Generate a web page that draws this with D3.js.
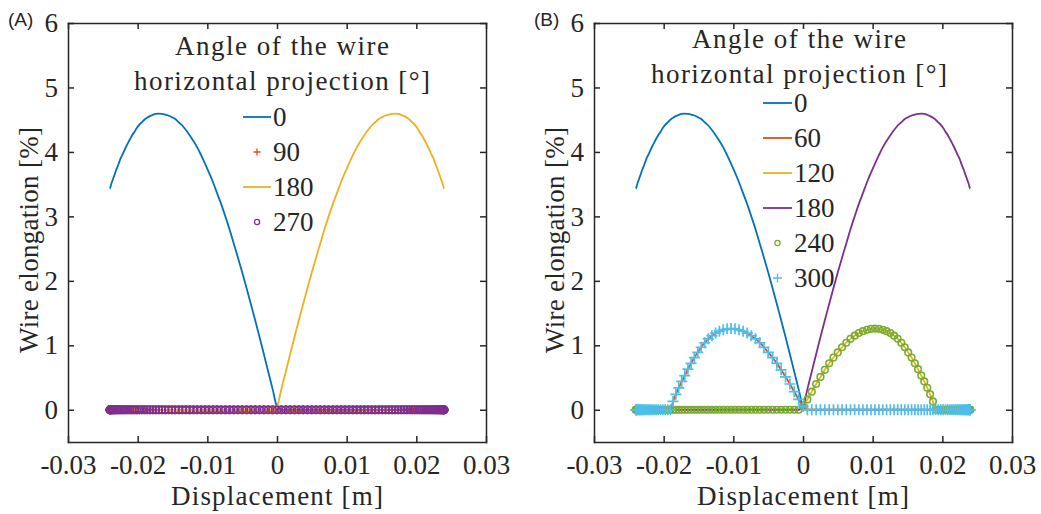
<!DOCTYPE html>
<html>
<head>
<meta charset="utf-8">
<script src="https://cdn.jsdelivr.net/npm/d3@7"></script>
<style>
  body { margin: 0; background: #fff; }
  svg text { fill: #262626; font-family: "Liberation Serif", "Times New Roman", serif; }
  svg text.letter { font-family: "Liberation Sans", Arial, sans-serif; }
</style>
</head>
<body>
<svg id="chart" width="1041" height="514"></svg>
<script>
// displacement samples on one side of the centre [m]
const halfDisp = [0, 0.000628, 0.001256, 0.001883, 0.002509, 0.003133, 0.003754, 0.004374, 0.00499, 0.005603,
  0.006212, 0.006816, 0.007416, 0.008011, 0.008601, 0.009184, 0.009762, 0.010332, 0.010896, 0.011452,
  0.012, 0.01254, 0.013071, 0.013594, 0.014107, 0.01461, 0.015104, 0.015587, 0.016059, 0.01652,
  0.016971, 0.017409, 0.017835, 0.01825, 0.018652, 0.01904, 0.019416, 0.019779, 0.020128, 0.020463,
  0.020785, 0.021092, 0.021384, 0.021662, 0.021925, 0.022173, 0.022406, 0.022623, 0.022825, 0.023012,
  0.023182, 0.023337, 0.023476, 0.023598, 0.023705, 0.023795, 0.023868, 0.023926, 0.023967, 0.023992, 0.024];

const peakCurve = [0.05, 0.32, 0.59, 0.86, 1.13, 1.39, 1.64, 1.89, 2.13, 2.36,
  2.58, 2.80, 3.00, 3.19, 3.36, 3.53, 3.68, 3.82, 3.95, 4.07,
  4.17, 4.26, 4.34, 4.41, 4.46, 4.51, 4.54, 4.565, 4.58, 4.59,
  4.595, 4.59, 4.575, 4.555, 4.53, 4.50, 4.46, 4.42, 4.37, 4.31,
  4.26, 4.20, 4.14, 4.08, 4.02, 3.96, 3.91, 3.85, 3.79, 3.74,
  3.69, 3.64, 3.60, 3.56, 3.53, 3.50, 3.47, 3.45, 3.44, 3.43, 3.43];

// elongation [%] (60, 120, 240, 300 deg)
const humpCurve = [0.05, 0.16, 0.28, 0.40, 0.51, 0.62, 0.72, 0.81, 0.89, 0.97,
  1.04, 1.10, 1.15, 1.19, 1.22, 1.24, 1.255, 1.26, 1.255, 1.24,
  1.22, 1.19, 1.15, 1.10, 1.04, 0.97, 0.89, 0.81, 0.72, 0.63,
  0.53, 0.44, 0.34, 0.24, 0.13, 0, 0, 0, 0, 0,
  0, 0, 0, 0, 0, 0, 0, 0, 0, 0,
  0, 0, 0, 0, 0, 0, 0, 0, 0, 0, 0];

// flat part of the response
const flatCurve = [0, 0, 0, 0, 0, 0, 0, 0, 0, 0,
  0, 0, 0, 0, 0, 0, 0, 0, 0, 0,
  0, 0, 0, 0, 0, 0, 0, 0, 0, 0,
  0, 0, 0, 0, 0, 0, 0, 0, 0, 0,
  0, 0, 0, 0, 0, 0, 0, 0, 0, 0,
  0, 0, 0, 0, 0, 0, 0, 0, 0, 0, 0];

const xTicks = [-0.03, -0.02, -0.01, 0, 0.01, 0.02, 0.03];
const yTicks = [0, 1, 2, 3, 4, 5, 6];

const anglesA = [0, 90, 180, 270];
const anglesB = [0, 60, 120, 180, 240, 300];

// which curve is on the negative / positive side for every angle
const shapesA = [[peakCurve, flatCurve], [flatCurve, flatCurve], [flatCurve, peakCurve], [flatCurve, flatCurve]];
const shapesB = [[peakCurve, flatCurve], [humpCurve, flatCurve], [flatCurve, humpCurve],
  [flatCurve, peakCurve], [flatCurve, humpCurve], [humpCurve, flatCurve]];

const C = {blue: "#0072BD", red: "#D95319", yellow: "#EDB120", purple: "#7E2F8E", green: "#77AC30", cyan: "#4DBEEE"};
const stylesA = [
  {type: "line", color: C.blue}, {type: "plus", color: C.red, r: 4.6, legendR: 3.5},
  {type: "line", color: C.yellow}, {type: "circle", color: C.purple, r: 3.6}];
const stylesB = [
  {type: "line", color: C.blue}, {type: "line", color: C.red}, {type: "line", color: C.yellow},
  {type: "line", color: C.purple}, {type: "circle", color: C.green, r: 3.3},
  {type: "plus", color: C.cyan, r: 5.5, legendR: 4.5}];

function buildPoints(neg, pos) {
  const pts = [];
  for (let i = halfDisp.length - 1; i > 0; i--) pts.push([-halfDisp[i], neg[i]]);
  pts.push([0, Math.max(neg[0], pos[0])]);
  for (let i = 1; i < halfDisp.length; i++) pts.push([halfDisp[i], pos[i]]);
  return pts;
}

const svg = d3.select("#chart");
const FS = 27;

function panel(x0, label, angles, shapes, styles, legendCfg) {
  const x = d3.scaleLinear().domain([-0.03, 0.03]).range([x0, x0 + 418]);
  const y = d3.scaleLinear().domain([-0.5, 6]).range([442, 23]);
  const g = svg.append("g");

  // series
  angles.forEach((a, i) => {
    const pts = buildPoints(shapes[i][0], shapes[i][1]);
    const st = styles[i];
    if (st.type === "line") {
      g.append("path")
        .attr("d", d3.line().curve(d3.curveMonotoneX).x(d => x(d[0])).y(d => y(d[1]))(pts))
        .attr("fill", "none").attr("stroke", st.color).attr("stroke-width", 1.8);
    } else if (st.type === "plus") {
      g.selectAll(null).data(pts).enter().append("path")
        .attr("transform", d => `translate(${x(d[0])},${y(d[1])})`)
        .attr("d", `M${-st.r},0H${st.r}M0,${-st.r}V${st.r}`)
        .attr("stroke", st.color).attr("stroke-width", 1.7).attr("fill", "none");
    } else {
      g.selectAll(null).data(pts).enter().append("circle")
        .attr("cx", d => x(d[0])).attr("cy", d => y(d[1])).attr("r", st.r)
        .attr("stroke", st.color).attr("stroke-width", 1.6).attr("fill", "none");
    }
  });

  // axes (box with inward ticks)
  const axStyle = sel => {
    sel.attr("font-family", null).attr("font-size", null);
    sel.selectAll("path.domain").attr("stroke", "#262626").attr("stroke-width", 1.5);
    sel.selectAll(".tick line").attr("stroke", "#262626").attr("stroke-width", 1.5);
    sel.selectAll("text").style("font-size", FS + "px").attr("fill", "#262626");
  };
  g.append("g").attr("transform", "translate(0,442)")
    .call(d3.axisBottom(x).tickValues(xTicks).tickSize(-6).tickSizeOuter(0).tickPadding(13)
      .tickFormat(d => d === 0 ? "0" : d3.format(".2f")(d).replace("−", "-")))
    .call(axStyle);
  g.append("g").attr("transform", "translate(0,23)")
    .call(d3.axisTop(x).tickValues(xTicks).tickSize(-6).tickSizeOuter(0).tickFormat(""))
    .call(axStyle);
  g.append("g").attr("transform", `translate(${x0},0)`)
    .call(d3.axisLeft(y).tickValues(yTicks).tickSize(-6).tickSizeOuter(0).tickPadding(10).tickFormat(d3.format("d")))
    .call(axStyle);
  g.append("g").attr("transform", `translate(${x0 + 418},0)`)
    .call(d3.axisRight(y).tickValues(yTicks).tickSize(-6).tickSizeOuter(0).tickFormat(""))
    .call(axStyle);
  g.selectAll(".domain").attr("stroke-linecap", "square");

  // axis titles
  g.append("text").attr("x", x0 + 209).attr("y", 505).attr("text-anchor", "middle")
    .attr("textLength", 212).style("font-size", FS + "px").text("Displacement [m]");
  g.append("text").attr("transform", `translate(${x0 - 30},240) rotate(-90)`)
    .attr("text-anchor", "middle").attr("textLength", 226).style("font-size", FS + "px")
    .text("Wire elongation [%]");

  // panel letter
  svg.append("text").attr("class", "letter").attr("x", x0 - 60).attr("y", 26)
    .style("font-size", "19px").text(label);

  // legend
  const L = legendCfg;
  g.append("text").attr("x", L.cx).attr("y", L.titleY).attr("text-anchor", "middle")
    .attr("textLength", 214).style("font-size", FS + "px").text("Angle of the wire");
  g.append("text").attr("x", L.cx).attr("y", L.titleY + 35).attr("text-anchor", "middle")
    .attr("textLength", 296).style("font-size", FS + "px").text("horizontal projection [\u00B0]");
  angles.forEach((a, i) => {
    const cy = L.firstY + i * 35;
    const st = styles[i];
    const mx = (L.lx0 + L.lx1) / 2;
    if (st.type === "line") {
      g.append("line").attr("x1", L.lx0).attr("x2", L.lx1).attr("y1", cy).attr("y2", cy)
        .attr("stroke", st.color).attr("stroke-width", 1.8);
    } else if (st.type === "plus") {
      const r = st.legendR;
      g.append("path").attr("d", `M${mx - r},${cy}H${mx + r}M${mx},${cy - r}V${cy + r}`)
        .attr("stroke", st.color).attr("stroke-width", 1.3);
    } else {
      g.append("circle").attr("cx", mx).attr("cy", cy).attr("r", 2.6)
        .attr("stroke", st.color).attr("stroke-width", 1.3).attr("fill", "none");
    }
    g.append("text").attr("x", L.lx1 + 2).attr("y", cy).attr("dy", "0.35em")
      .style("font-size", FS + "px").text(a);
  });
}

panel(68, "(A)", anglesA, shapesA, stylesA, {cx: 282, titleY: 55, firstY: 117, lx0: 243, lx1: 271});
panel(594, "(B)", anglesB, shapesB, stylesB, {cx: 799, titleY: 48, firstY: 103, lx0: 763, lx1: 792});
</script>
</body>
</html>
